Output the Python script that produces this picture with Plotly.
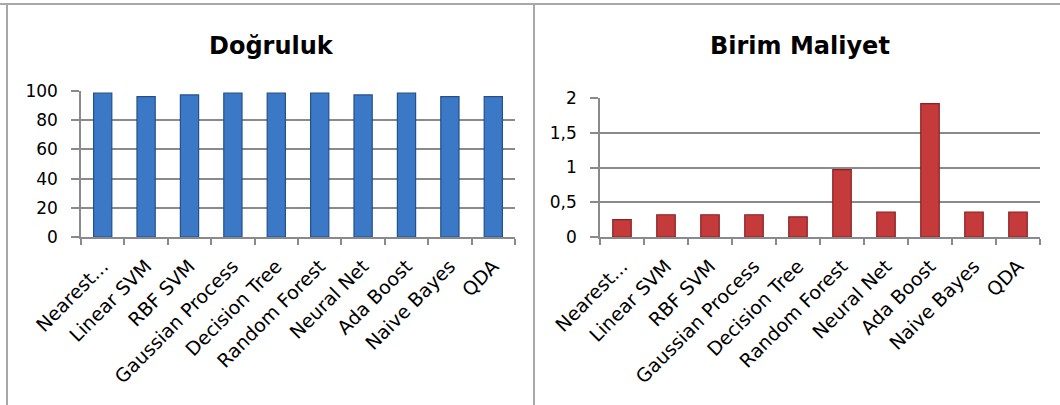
import plotly.graph_objects as go

categories = ["Nearest...", "Linear SVM", "RBF SVM", "Gaussian Process", "Decision Tree",
              "Random Forest", "Neural Net", "Ada Boost", "Naive Bayes", "QDA"]
accuracy = [98.5, 96.2, 97.3, 98.5, 98.5, 98.5, 97.3, 98.5, 96.2, 96.2]
unit_cost = [0.25, 0.32, 0.32, 0.32, 0.29, 0.97, 0.36, 1.92, 0.36, 0.36]
title_left = "Doğruluk"
title_right = "Birim Maliyet"

W, H = 1060, 405
def px_x(v):
    return v / W
def px_y(v):
    return 1 - v / H

FONT = "DejaVu Sans"
XTXT = dict(family=FONT, size=19, color="#000000")
YTXT = dict(family=FONT, size=17, color="#000000")
GRID = "#8a8a8a"
FRAME = "#a8a8a8"

fig = go.Figure()
fig.add_trace(go.Bar(x=categories, y=accuracy, xaxis="x", yaxis="y", width=0.42,
                     marker=dict(color="#3b78c6", line=dict(color="#24508c", width=1.2)),
                     showlegend=False))
fig.add_trace(go.Bar(x=categories, y=unit_cost, xaxis="x2", yaxis="y2", width=0.42,
                     marker=dict(color="#c53a3a", line=dict(color="#8a2224", width=1.2)),
                     showlegend=False))

xcommon = dict(type="category", showline=True, linecolor=GRID, linewidth=1.5,
               ticks="outside", tickson="boundaries", ticklen=6, tickcolor=GRID, tickwidth=1.5,
               tickangle=-45, tickfont=XTXT, showgrid=False, fixedrange=True, automargin=False,
               ticklabelstandoff=9)
ycommon = dict(showline=True, linecolor=GRID, linewidth=1.5, ticks="outside", ticklen=8,
               tickcolor=GRID, tickwidth=1.5, showgrid=True, gridcolor=GRID, gridwidth=1.5,
               tickfont=YTXT, zeroline=False, ticklabelstandoff=10, fixedrange=True,
               automargin=False)

fig.update_layout(
    width=W, height=H, margin=dict(l=0, r=0, t=0, b=0, autoexpand=False),
    paper_bgcolor="white", plot_bgcolor="white",
    separators=",.",
    bargap=0.58,
    xaxis=dict(domain=[px_x(81), px_x(515)], anchor="y", **xcommon),
    yaxis=dict(domain=[px_y(237), px_y(91)], anchor="x", range=[0, 100], dtick=20, **ycommon),
    xaxis2=dict(domain=[px_x(600), px_x(1040)], anchor="y2", **xcommon),
    yaxis2=dict(domain=[px_y(237), px_y(98)], anchor="x2", range=[0, 2], dtick=0.5, **ycommon),
    annotations=[
        dict(text="<b>%s</b>" % title_left, x=px_x(271), y=px_y(46), xref="paper", yref="paper",
             showarrow=False, font=dict(family=FONT, size=24, color="#000000"),
             xanchor="center", yanchor="middle"),
        dict(text="<b>%s</b>" % title_right, x=px_x(800), y=px_y(46), xref="paper", yref="paper",
             showarrow=False, font=dict(family=FONT, size=24, color="#000000"),
             xanchor="center", yanchor="middle"),
    ],
    shapes=[
        dict(type="line", xref="paper", yref="paper", x0=0, x1=1, y0=px_y(4), y1=px_y(4),
             line=dict(color=FRAME, width=2)),
        dict(type="line", xref="paper", yref="paper", x0=px_x(7), x1=px_x(7), y0=px_y(4), y1=0,
             line=dict(color=FRAME, width=2)),
        dict(type="line", xref="paper", yref="paper", x0=px_x(534), x1=px_x(534), y0=px_y(4), y1=0,
             line=dict(color=FRAME, width=2)),
    ],
)

fig.write_html("out.html")
